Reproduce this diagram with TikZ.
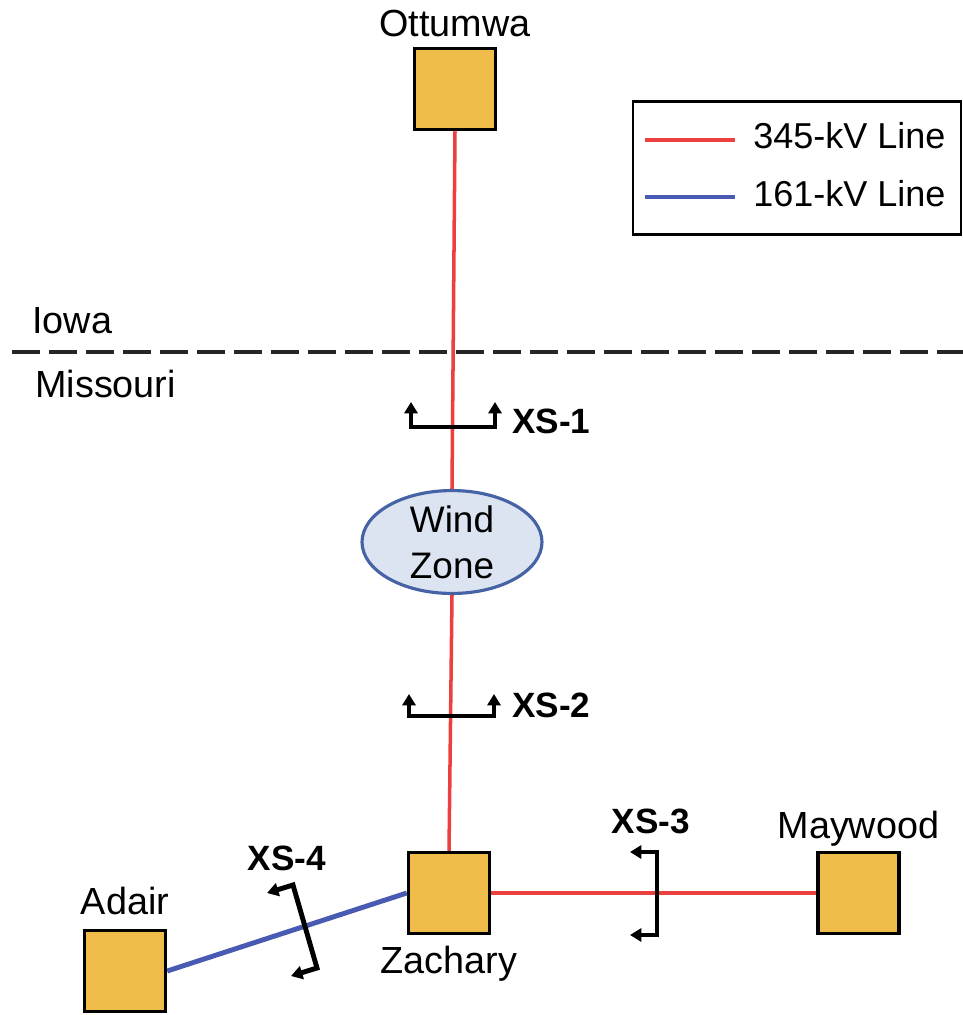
\documentclass[tikz,border=0pt]{standalone}
\usepackage{fontspec}
\setmainfont{Liberation Sans}
\usetikzlibrary{positioning, shapes.geometric, arrows.meta}

\definecolor{stationfill}{RGB}{240,188,74}
\definecolor{hvred}{RGB}{236,64,64}
\definecolor{lvblue}{RGB}{72,90,178}
\definecolor{zonefill}{RGB}{220,228,242}
\definecolor{zoneline}{RGB}{70,100,165}

\tikzset{
  station/.style={draw=black, fill=stationfill, line width=2pt, minimum size=1.62cm, inner sep=0pt},
  place/.style={inner sep=0pt, text depth=0pt, font=\fontsize{21.5}{25}\selectfont},
  hv/.style={draw=hvred, line width=2pt},
  lv/.style={draw=lvblue, line width=2.8pt},
  xsec/.style={line width=2.8pt, {Triangle[length=6.5pt,width=7.5pt]}-{Triangle[length=6.5pt,width=7.5pt]}},
  xslabel/.style={inner sep=0pt, anchor=base, font=\fontsize{20}{24}\selectfont\bfseries},
}

\begin{document}
\begin{tikzpicture}[x=0.02cm, y=-0.02cm, font=\fontsize{21}{26}\selectfont]
    \useasboundingbox (0,0) rectangle (963,1015);

    % substations
    \node[station] (O) at (455,89) {};
    \node[station] (Z) at (449,893) {};
    \node[station] (M) [right=6.5cm of Z] {};
    \node[station] (A) at (125,971) {};
    \node[place] (Olab) [above=0.2cm of O] {Ottumwa};
    \node[place] (Zlab) [below=0.22cm of Z] {Zachary};
    \node[place] (Mlab) [above=0.24cm of M] {Maywood};
    \node[place] (Alab) [above=0.28cm of A] {Adair};

    % wind zone
    \node[ellipse, draw=zoneline, fill=zonefill, line width=1.8pt, minimum width=3.6cm,
          minimum height=1.9cm, inner sep=0pt, align=center] (W) at (452,542) {Wind\\Zone};

    % lines
    \path
      (O.south) edge[hv] (W.north)
      (W.south) edge[hv] (Z.north)
      (Z.east) edge[hv] (M.west)
      (A.east) edge[lv] (Z.west);

    % state border
    \draw[line width=1.8pt, black!85, dash pattern=on 0.56cm off 0.18cm] (12,352) -- (963,352);
    \node[place, anchor=base west] (iowa) at (32,333) {Iowa};
    \node[place, anchor=base west] (mo) at (35,397) {Missouri};

    % cross sections
    \draw[xsec] (411,402) -- (411,427) -- (495,427) -- (495,402);
    \node[xslabel, anchor=base west] (xs1) at (512,433) {XS-1};
    \draw[xsec] (409,694) -- (409,716) -- (494,716) -- (494,694);
    \node[xslabel, anchor=base west] (xs2) at (512,717) {XS-2};
    \draw[xsec] (630,852) -- (657,852) -- (657,935) -- (630,935);
    \node[xslabel] (xs3) at (651,833) {XS-3};
    \draw[xsec] (267,893) -- (293,885) -- (317,968) -- (291,976);
    \node[xslabel] (xs4) at (287,870) {XS-4};

    % legend
    \node[draw, line width=1.4pt, minimum width=6.56cm, minimum height=2.66cm] (key) at (797,168) {};
    \node[place, font=\fontsize{20.5}{24}\selectfont, anchor=base west] (k1) at (753,148) {345-kV Line};
    \node[place, font=\fontsize{20.5}{24}\selectfont, anchor=base west] (k2) at (753,206) {161-kV Line};
    \draw[hv, line width=2.8pt] (645,140) -- (735,140);
    \draw[lv] (645,197) -- (735,197);
\end{tikzpicture}
\end{document}
